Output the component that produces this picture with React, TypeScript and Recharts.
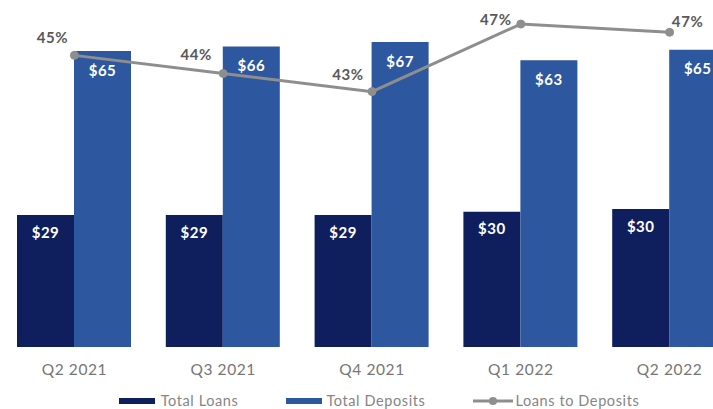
import React from "react";
import {
  ComposedChart,
  Bar,
  Line,
  XAxis,
  YAxis,
  Legend,
  LabelList,
} from "recharts";

// Quarterly balances ($ billions) and the loans-to-deposits ratio (%)
const quarters = ["Q2 2021", "Q3 2021", "Q4 2021", "Q1 2022", "Q2 2022"];
const totalLoans = [29, 29, 29, 29.7, 30.3];
const totalDeposits = [65, 66, 67, 63, 65.3];
const loansToDeposits = [45.1, 44.0, 42.9, 47.0, 46.5];

// Per-point nudges for the ratio labels so they clear the bars
const pctLabelOffsets: [number, number][] = [
  [-22, -18],
  [-27, -19],
  [-24, -18],
  [-25, -5],
  [18, -11],
];

const data = quarters.map((q, i) => ({
  quarter: q,
  loans: totalLoans[i],
  deposits: totalDeposits[i],
  ratio: loansToDeposits[i],
}));

const LOANS = "#0f1f5e";
const DEPOSITS = "#2d579e";
const RATIO = "#8e8e8e";
const FONT = "Lato, 'Open Sans', sans-serif";

const dollarLabel = (v: any) => `$${Math.round(Number(v))}`;

const PctLabel = (props: any) => {
  const { x, y, value, index } = props;
  const [dx, dy] = pctLabelOffsets[index] || [0, -14];
  return (
    <text
      x={x + dx}
      y={y + dy}
      textAnchor="middle"
      dominantBaseline="central"
      fontFamily={FONT}
      fontWeight={700}
      fontSize={15}
      letterSpacing={0.6}
      fill="#595959"
    >
      {`${Math.round(Number(value))}%`}
    </text>
  );
};

const LegendContent = () => {
  const item: React.CSSProperties = {
    display: "flex",
    alignItems: "center",
    fontFamily: FONT,
    fontSize: 14.5,
    letterSpacing: 0.6,
    color: "#858585",
    whiteSpace: "nowrap",
  };
  return (
    <div
      style={{
        display: "flex",
        justifyContent: "center",
        gap: 48,
        width: "100%",
        paddingLeft: 14,
        boxSizing: "border-box",
      }}
    >
      <div style={item}>
        <span style={{ width: 36, height: 6, background: LOANS, marginRight: 6 }} />
        Total Loans
      </div>
      <div style={item}>
        <span style={{ width: 36, height: 6, background: DEPOSITS, marginRight: 4 }} />
        Total Deposits
      </div>
      <div style={item}>
        <svg width={40} height={10} style={{ marginRight: 2 }}>
          <line x1={0} y1={5} x2={40} y2={5} stroke={RATIO} strokeWidth={3} />
          <circle cx={20} cy={5} r={4} fill={RATIO} />
        </svg>
        Loans to Deposits
      </div>
    </div>
  );
};

export default function App() {
  return (
    <div
      style={{
        position: "absolute",
        left: 0,
        top: 0,
        width: 713,
        height: 409,
        overflow: "hidden",
        background: "#fff",
      }}
    >
      <ComposedChart
        width={744}
        height={409}
        data={data}
        margin={{ top: 1, right: 0, bottom: 0, left: 0 }}
        barSize={57}
        barGap={0}
      >
        <XAxis
          dataKey="quarter"
          axisLine={false}
          tickLine={false}
          tickSize={6}
          tickMargin={11}
          height={62}
          tick={{ fontFamily: FONT, fontSize: 15.5, fill: "#767676", letterSpacing: 0.6 }}
        />
        <YAxis yAxisId="amt" hide domain={[0, 76]} />
        <YAxis yAxisId="pct" hide domain={[27.4, 48.4]} allowDataOverflow />
        <Legend
          verticalAlign="middle"
          align="center"
          layout="horizontal"
          content={<LegendContent />}
          wrapperStyle={{ top: 392, left: 0, width: 744, height: 18 }}
        />
        <Bar yAxisId="amt" dataKey="loans" name="Total Loans" fill={LOANS} isAnimationActive={false}>
          <LabelList
            dataKey="loans"
            position="insideTop"
            offset={12}
            formatter={dollarLabel}
            fill="#fff"
            fontFamily={FONT}
            fontWeight={700}
            fontSize={15}
            letterSpacing={0.5}
          />
        </Bar>
        <Bar yAxisId="amt" dataKey="deposits" name="Total Deposits" fill={DEPOSITS} isAnimationActive={false}>
          <LabelList
            dataKey="deposits"
            position="insideTop"
            offset={14}
            formatter={dollarLabel}
            fill="#fff"
            fontFamily={FONT}
            fontWeight={700}
            fontSize={15}
            letterSpacing={0.5}
          />
        </Bar>
        <Line
          yAxisId="pct"
          dataKey="ratio"
          name="Loans to Deposits"
          stroke={RATIO}
          strokeWidth={3}
          dot={{ r: 4, fill: RATIO, stroke: RATIO, strokeWidth: 1 }}
          isAnimationActive={false}
        >
          <LabelList dataKey="ratio" content={<PctLabel />} />
        </Line>
      </ComposedChart>
    </div>
  );
}
